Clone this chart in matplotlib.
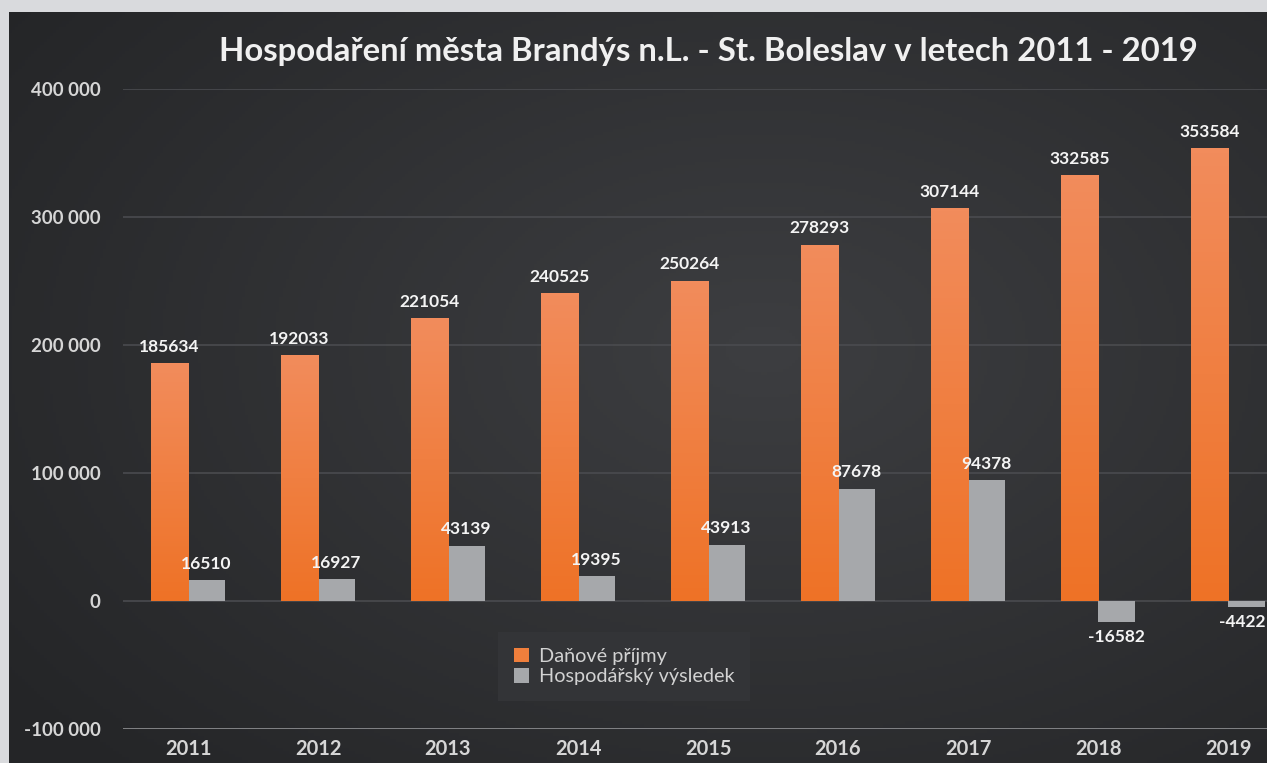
import matplotlib.pyplot as plt
import numpy as np

# data
years = ["2011", "2012", "2013", "2014", "2015", "2016", "2017", "2018", "2019"]
prijmy = [185634, 192033, 221054, 240525, 250264, 278293, 307144, 332585, 353584]
vysledek = [16510, 16927, 43139, 19395, 43913, 87678, 94378, -16582, -4422]
series_names = ["Daňové příjmy", "Hospodářský výsledek"]
y_ticks = [-100000, 0, 100000, 200000, 300000, 400000]

title = "Hospodaření města Brandýs n.L. - St. Boleslav v letech 2011 - 2019"

plt.rcParams['font.family'] = ['Lato', 'DejaVu Sans']

W, H = 1267, 763
fig = plt.figure(figsize=(W / 100, H / 100), dpi=100)
fig.patch.set_facecolor('#d9dadd')

# dark panel with soft radial gradient
bg = fig.add_axes([9 / W, 0, 1 - 9 / W, (H - 12) / H])
bg.set_axis_off()
gx, gy = np.meshgrid(np.linspace(0, 1, 400), np.linspace(0, 1, 250))
r = np.sqrt(((gx - 0.6) / 0.75) ** 2 + ((gy - 0.45) / 0.8) ** 2)
r = np.clip(r, 0, 1)
dark = np.array([0x24, 0x25, 0x27]) / 255
light = np.array([0x3d, 0x3e, 0x41]) / 255
img = light[None, None, :] * (1 - r[..., None]) + dark[None, None, :] * r[..., None]
bg.imshow(img, extent=[0, 1, 0, 1], aspect='auto', origin='upper')
bg.set_xlim(0, 1)
bg.set_ylim(0, 1)

# main axes (extends past right edge, like the cropped original)
x0, x1 = 123, 1293
y_top, y_bot = 89, 729
ax = fig.add_axes([x0 / W, (H - y_bot) / H, (x1 - x0) / W, (y_bot - y_top) / H])
ax.set_facecolor('none')
for s in ax.spines.values():
    s.set_visible(False)

x = np.arange(len(years))
w = 0.285

# gridlines
for t in y_ticks:
    if t == -100000:
        ax.axhline(t, color='#8a8b8e', lw=2, zorder=1)
    else:
        ax.axhline(t, color='#4a4b4f', lw=1.2, zorder=1)

orange_bars = ax.bar(x - w / 2, prijmy, w, color='#f07f3c', zorder=3)
gray_bars = ax.bar(x + w / 2, vysledek, w, color='#a6a8ab', zorder=3)

# vertical gradient on orange bars
grad = np.linspace(0, 1, 100)[:, None]
c_top = np.array([0xf2, 0x8c, 0x5c]) / 255
c_bot = np.array([0xee, 0x72, 0x26]) / 255
gimg = c_top[None, None, :] * (1 - grad[..., None]) + c_bot[None, None, :] * grad[..., None]
for b in orange_bars:
    bx, by = b.get_x(), b.get_y()
    im = ax.imshow(gimg, extent=[bx, bx + b.get_width(), by, by + b.get_height()],
                   aspect='auto', origin='upper', zorder=3.5)
    im.set_clip_path(b)

ax.set_xlim(-0.5, len(years) - 0.5)
ax.set_ylim(-100000, 400000)

# value labels
lab_kw = dict(textcoords='offset points', color='#f4f4f4',
              fontsize=12.5, fontweight='bold', zorder=5, annotation_clip=False)
for xi, v in zip(x, prijmy):
    ax.annotate(str(v), (xi - w / 2, v), xytext=(0, 6), ha='center', va='bottom', **lab_kw)
for i, (xi, v) in enumerate(zip(x, vysledek)):
    if v >= 0:
        ax.annotate(str(v), (xi + w / 2, v), xytext=(0, 6), ha='center', va='bottom', **lab_kw)
    elif i == len(years) - 1:
        # last label sits at the figure edge: keep it inside
        ax.annotate(str(v), (1, v), xycoords=('figure fraction', 'data'), xytext=(-1, -5),
                    ha='right', va='top', **lab_kw)
    else:
        ax.annotate(str(v), (xi + w / 2, v), xytext=(0, -5), ha='center', va='top', **lab_kw)

# ticks
ax.set_yticks(y_ticks)
ax.set_yticklabels([f"{t:,}".replace(",", " ") if t != 0 else "0" for t in y_ticks])
ax.set_xticks(x)
ax.set_xticklabels(years)
ax.tick_params(axis='both', length=0, colors='#d6d6d6')
ax.tick_params(axis='y', pad=16, labelsize=13.5)
ax.tick_params(axis='x', pad=7, labelsize=14.5)
for lab in ax.get_xticklabels() + ax.get_yticklabels():
    lab.set_fontweight('bold')

# title
fig.text(708 / W, (H - 51) / H, title, ha='center', va='center',
         color='#f0f0f0', fontsize=23.7, fontweight='bold')

# legend
leg = ax.legend([orange_bars, gray_bars], series_names,
                loc='upper left',
                bbox_to_anchor=((498 - x0) / (x1 - x0), (y_bot - 632) / (y_bot - y_top)),
                borderaxespad=0, frameon=True, facecolor='#333437', edgecolor='none',
                framealpha=1, fontsize=14.3, labelcolor='#d2d2d2', handlelength=0.75,
                handleheight=0.75, handletextpad=0.5, labelspacing=0.15, borderpad=0.8,
                fancybox=False)
leg.get_frame().set_linewidth(0)

fig.savefig("out.png", dpi=100, facecolor=fig.get_facecolor())
